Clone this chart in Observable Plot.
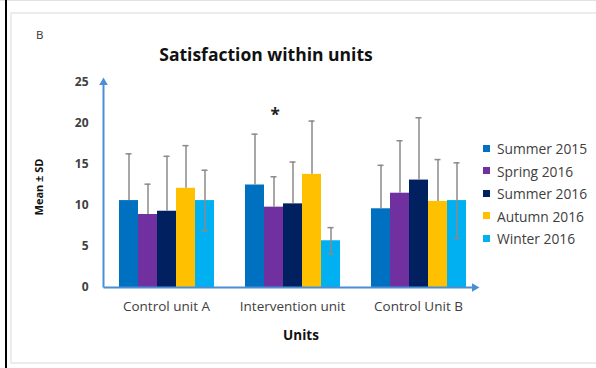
<!DOCTYPE html>
<html>
<head>
<meta charset="utf-8">
<script src="https://cdn.jsdelivr.net/npm/d3@7"></script>
<script src="https://cdn.jsdelivr.net/npm/@observablehq/plot@0.6"></script>
<style>
  html, body { margin: 0; padding: 0; background: #fff; }
  #wrap { position: relative; width: 596px; height: 368px; overflow: hidden; font-family: "Open Sans", sans-serif; }
  .abs { position: absolute; }
  #wrap svg { position: absolute; left: 0; top: 0; }
</style>
</head>
<body>
<div id="wrap"></div>
<script>
// ---- data ----
const units = ["Control unit A", "Intervention unit", "Control Unit B"];
const series = ["Summer 2015", "Spring 2016", "Summer 2016", "Autumn 2016", "Winter 2016"];
const colors = ["#0070C0", "#7030A0", "#002060", "#FFC000", "#00B0F0"];
const meanControlA = [10.6, 8.9, 9.3, 12.1, 10.6];
const sdControlA = [5.7, 3.7, 6.7, 5.2, 3.7];
const meanIntervention = [12.5, 9.8, 10.2, 13.8, 5.7];
const sdIntervention = [6.2, 3.7, 5.1, 6.5, 1.6];
const meanControlB = [9.6, 11.5, 13.1, 10.5, 10.6];
const sdControlB = [5.3, 6.4, 7.6, 5.1, 4.6];
const lowerErrorSeries = ["Winter 2016"];
const yTicks = [0, 5, 10, 15, 20, 25];
const starMarks = [{unit: "Intervention unit", series: "Spring 2016", y: 21.5, text: "*"}];
const title = "Satisfaction within units";
const panelLetter = "B";
const xLabel = "Units";
const yLabel = "Mean ± SD";

const meansByUnit = [meanControlA, meanIntervention, meanControlB];
const sdsByUnit = [sdControlA, sdIntervention, sdControlB];
const rows = [];
units.forEach((u, i) => series.forEach((s, j) => rows.push({unit: u, series: s, mean: meansByUnit[i][j], sd: sdsByUnit[i][j]})));
const lowerRows = rows.filter(d => lowerErrorSeries.includes(d.series));

const W = 596, H = 368;
const M = {left: 103, right: 115, top: 82, bottom: 81};
const errColor = "#8a8a8a";
const axisColor = "#4a8ed6";
const textColor = "#404040";

const wrap = document.getElementById("wrap");

// frame decoration
function addDiv(style, text) {
  const d = document.createElement("div");
  d.className = "abs";
  Object.assign(d.style, style);
  if (text !== undefined) d.textContent = text;
  wrap.appendChild(d);
  return d;
}
addDiv({left: "0px", top: "0px", width: "596px", height: "1px", background: "#e2e2e2"});
addDiv({left: "10px", top: "12px", width: "600px", height: "352px", border: "2px solid #ececec", boxSizing: "border-box"});
addDiv({left: "5px", top: "0px", width: "2px", height: "368px", background: "#000"});

const chart = Plot.plot({
  width: W, height: H,
  marginLeft: M.left, marginRight: M.right, marginTop: M.top, marginBottom: M.bottom,
  style: {background: "transparent", fontFamily: "Open Sans", overflow: "visible"},
  fx: {domain: units, paddingInner: 0.24, paddingOuter: 0.12, label: null, axis: "bottom", tickSize: 0, tickPadding: 14},
  x: {domain: series, padding: 0, axis: null},
  y: {domain: [0, 25], ticks: yTicks, tickSize: 0, tickPadding: 30, label: null},
  color: {domain: series, range: colors},
  marks: [
    Plot.barY(rows, {fx: "unit", x: "series", y: "mean", fill: "series"}),
    Plot.ruleX(rows, {fx: "unit", x: "series", y1: "mean", y2: d => d.mean + d.sd, stroke: errColor, strokeWidth: 1.5}),
    Plot.ruleX(lowerRows, {fx: "unit", x: "series", y1: d => d.mean - d.sd, y2: "mean", stroke: errColor, strokeWidth: 1.5}),
    Plot.tickY(rows, {fx: "unit", x: "series", y: d => d.mean + d.sd, stroke: errColor, strokeWidth: 1.5, insetLeft: 6.5, insetRight: 6.5}),
    Plot.tickY(lowerRows, {fx: "unit", x: "series", y: d => d.mean - d.sd, stroke: errColor, strokeWidth: 1.5, insetLeft: 6.5, insetRight: 6.5}),
    Plot.text(starMarks, {fx: "unit", x: "series", y: "y", text: "text", dx: 1, dy: 4, fontSize: 17, fontWeight: "bold", fill: "#222"})
  ]
});
wrap.appendChild(chart);
d3.select(chart).selectAll('[aria-label^="y-axis"] text').attr("font-weight", "bold").attr("font-size", 12).attr("fill", textColor);
d3.select(chart).selectAll('[aria-label^="fx-axis"] text').attr("font-size", 13.5).attr("fill", textColor);

// axis lines with arrowheads
const axisArrows = [{x1: 0, y1: 0, x2: 0, y2: 25}, {x1: 0, y1: 0, x2: 1, y2: 0}];
const arrowHeads = [{x: 0, y: 25, rotate: 0}, {x: 1, y: 0, rotate: 90}];
const overlay = Plot.plot({
  width: W, height: H,
  marginLeft: M.left, marginRight: M.right + 7, marginTop: M.top, marginBottom: M.bottom,
  style: {background: "transparent", overflow: "visible", pointerEvents: "none"},
  x: {domain: [0, 1], axis: null},
  y: {domain: [0, 25], axis: null},
  marks: [
    Plot.link(axisArrows, {x1: "x1", y1: "y1", x2: "x2", y2: "y2", stroke: axisColor, strokeWidth: 2}),
    Plot.dot(arrowHeads, {x: "x", y: "y", rotate: "rotate", symbol: "triangle", r: 3.2, fill: axisColor, stroke: "none"})
  ]
});
wrap.appendChild(overlay);

// texts
addDiv({left: "36px", top: "27px", fontSize: "11.5px", color: "#333"}, panelLetter);
addDiv({left: "266px", top: "54px", transform: "translate(-50%,-50%)", fontSize: "17.5px", fontWeight: "bold", color: "#111", whiteSpace: "nowrap"}, title);
addDiv({left: "301px", top: "335px", transform: "translate(-50%,-50%)", fontSize: "13.5px", fontWeight: "bold", color: "#111", whiteSpace: "nowrap"}, xLabel);
addDiv({left: "38px", top: "187px", transform: "translate(-50%,-50%) rotate(-90deg)", fontSize: "11px", fontWeight: "bold", color: "#111", whiteSpace: "nowrap"}, yLabel);

// legend
series.forEach((s, i) => {
  const cy = 148 + i * 22.5;
  addDiv({left: "483px", top: (cy - 3.5) + "px", width: "7px", height: "7px", background: colors[i]});
  addDiv({left: "497px", top: cy + "px", transform: "translateY(-50%)", fontSize: "13.8px", color: textColor, whiteSpace: "nowrap"}, s);
});
</script>
</body>
</html>
